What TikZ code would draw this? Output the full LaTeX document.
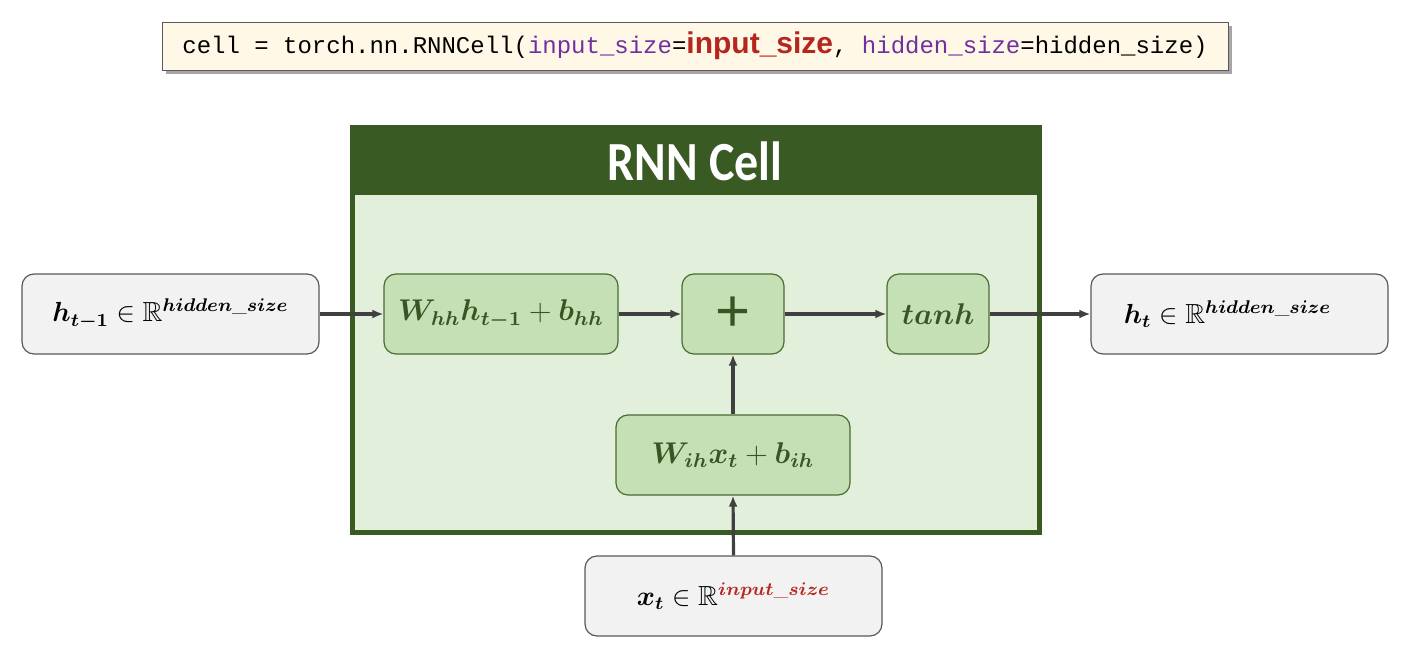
\documentclass[tikz,border=0pt]{standalone}
\usepackage{amsmath,amssymb,bm}
\usepackage{fontspec}
\setmonofont{Liberation Mono}
\newfontfamily\titlefont{Carlito}
\newfontfamily\codebold{Liberation Sans}
\usetikzlibrary{arrows.meta,shadows}

\definecolor{cellgreen}{HTML}{3A5A24}
\definecolor{cellbg}{HTML}{E2EFDA}
\definecolor{opfill}{HTML}{C5E0B4}
\definecolor{opdraw}{HTML}{4A6B33}
\definecolor{optext}{HTML}{375623}
\definecolor{iofill}{HTML}{F2F2F2}
\definecolor{iodraw}{HTML}{595959}
\definecolor{flowgray}{HTML}{404040}
\definecolor{codebg}{HTML}{FFF8E6}
\definecolor{codepurple}{HTML}{7030A0}
\definecolor{codered}{HTML}{B5261E}

% math labels are set at 12pt and enlarged
\newcommand\mlabel[2][2.3]{\scalebox{#1}{\fontsize{12}{14}\selectfont#2}}
\newcommand\usc{\_}

\begin{document}
\begin{tikzpicture}[x=1pt,y=-1pt,
  iobox/.style={draw=iodraw, fill=iofill, line width=1.2pt, rounded corners=12pt,
    minimum width=297pt, minimum height=80pt, inner sep=0pt},
  opbox/.style={draw=opdraw, fill=opfill, line width=1.2pt, rounded corners=12pt,
    minimum height=80pt, inner sep=0pt, text=optext},
  flow/.style={draw=flowgray, line width=3.2pt, -{Latex[length=11pt,width=9pt]}},
  codebox/.style={draw=iodraw, fill=codebg, line width=0.9pt,
    minimum width=1066pt, minimum height=48pt, inner sep=0pt,
    drop shadow={shadow xshift=4pt, shadow yshift=-4pt, fill=black, opacity=0.35}}
]
\useasboundingbox (0,0) rectangle (1403,647);

% code line
\node[codebox] (code) at (695,46)
  {\ttfamily\fontsize{24}{28}\selectfont cell = torch.nn.RNNCell(\textcolor{codepurple}{input\_size}=\textcolor{codered}{\codebold\bfseries\fontsize{30}{32}\selectfont input\_size}, \textcolor{codepurple}{hidden\_size}=hidden\_size)};

% RNN cell frame
\fill[cellgreen] (350,125) rectangle (1042,195);
\fill[cellbg] (352.5,195) rectangle (1039.5,532.5);
\draw[cellgreen, line width=5pt] (352.5,127.5) rectangle (1039.5,532.5);
\node[text=white, font=\titlefont\bfseries\fontsize{48}{52}\selectfont] (title) at (695,161)
  {\scalebox{1}[1.15]{RNN Cell}};

% operation boxes
\node[opbox, minimum width=234pt] (whh) at (501,314)
  {\mlabel[2.5]{$\bm{W}_{\bm{hh}}\bm{h}_{\bm{t-1}}+\bm{b}_{\bm{hh}}$}};
\node[opbox, minimum width=102pt] (plus) at (733,314)
  {\codebold\fontsize{60}{60}\selectfont\raisebox{-2pt}{+}};
\node[opbox, minimum width=102pt] (tanh) at (938,314)
  {\mlabel[2.5]{$\bm{tanh}$}};
\node[opbox, minimum width=234pt] (wih) at (733,455)
  {\mlabel[2.5]{$\bm{W}_{\bm{ih}}\bm{x}_{\bm{t}}+\bm{b}_{\bm{ih}}$}};

% input / output boxes
\node[iobox] (hprev) at (170.5,314)
  {\mlabel{$\bm{h}_{\bm{t-1}}\in\mathbb{R}^{\bm{hidden}\usc\bm{size}}$}};
\node[iobox] (ht) at (1239.5,314)
  {\mlabel{$\bm{h}_{\bm{t}}\in\mathbb{R}^{\bm{hidden}\usc\bm{size}}$}\hspace*{24pt}};
\node[iobox] (xt) at (733.5,596)
  {\mlabel{$\bm{x}_{\bm{t}}\in\mathbb{R}^{\color{codered}\bm{input}\usc\bm{size}}$}};

% connectors
\draw[flow] (hprev.east) -- (whh.west);
\draw[flow] (whh.east) -- (plus.west);
\draw[flow] (plus.east) -- (tanh.west);
\draw[flow] (tanh.east) -- (ht.west);
\draw[flow] (wih.north) -- (plus.south);
\draw[flow] (xt.north) -- (wih.south);
\end{tikzpicture}
\end{document}
